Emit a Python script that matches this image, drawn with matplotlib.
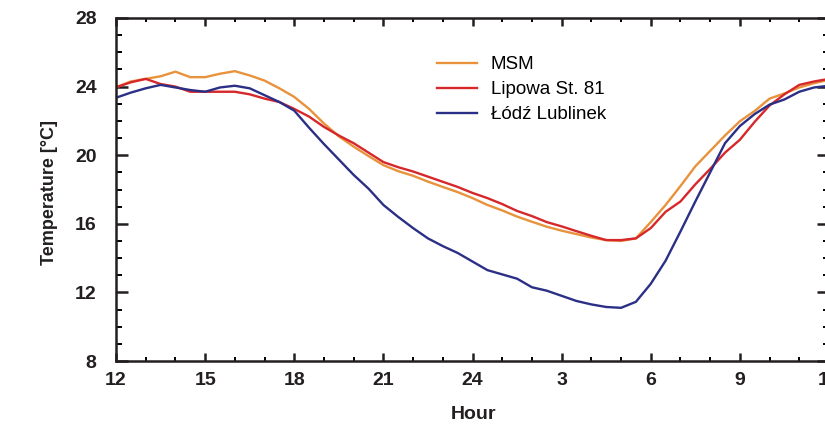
import numpy as np
import matplotlib
matplotlib.use("Agg")
import matplotlib.pyplot as plt
from matplotlib.ticker import MultipleLocator

plt.rcParams['font.family'] = ['Liberation Sans', 'DejaVu Sans']

# hours counted from 12:00 (0) to 12:00 next day (24)
hours = np.arange(0, 24.5, 0.5)

msm = [23.96, 24.30, 24.45, 24.60, 24.87, 24.55, 24.55, 24.75, 24.90, 24.65,
       24.35, 23.90, 23.40, 22.70, 21.85, 21.10, 20.50, 19.95, 19.42, 19.07,
       18.80, 18.46, 18.15, 17.85, 17.50, 17.10, 16.78, 16.42, 16.12, 15.83,
       15.60, 15.40, 15.20, 15.05, 15.00, 15.15, 16.10, 17.10, 18.20, 19.35,
       20.25, 21.15, 21.98, 22.58, 23.30, 23.60, 23.95, 24.20, 24.40]

lipowa = [23.96, 24.25, 24.45, 24.15, 24.00, 23.70, 23.70, 23.70, 23.70, 23.55,
          23.30, 23.10, 22.70, 22.25, 21.65, 21.15, 20.70, 20.15, 19.60, 19.30,
          19.05, 18.75, 18.45, 18.15, 17.80, 17.50, 17.15, 16.75, 16.45, 16.10,
          15.85, 15.57, 15.30, 15.05, 15.05, 15.15, 15.75, 16.70, 17.30, 18.30,
          19.20, 20.15, 20.90, 21.95, 22.90, 23.55, 24.10, 24.30, 24.45]

lodz = [23.35, 23.65, 23.90, 24.10, 23.95, 23.80, 23.70, 23.95, 24.05, 23.90,
        23.50, 23.10, 22.60, 21.60, 20.65, 19.75, 18.85, 18.05, 17.10, 16.40,
        15.75, 15.15, 14.70, 14.30, 13.80, 13.30, 13.05, 12.80, 12.30, 12.10,
        11.80, 11.50, 11.30, 11.15, 11.10, 11.45, 12.50, 13.85, 15.55, 17.30,
        19.00, 20.70, 21.70, 22.40, 22.95, 23.25, 23.70, 23.95, 24.05]

xtick_pos = np.arange(0, 25, 3)
xtick_labels = ['12', '15', '18', '21', '24', '3', '6', '9', '12']

fig = plt.figure(figsize=(8.25, 4.26), dpi=100)
# the right edge of the frame runs just past the picture, as in the original
ax = fig.add_axes([116/825, 65/426, 713/825, 343/426])

ax.plot(hours, msm, color='#E8923C', lw=1.7, label='MSM')
ax.plot(hours, lipowa, color='#D6282B', lw=1.7, label='Lipowa St. 81')
ax.plot(hours, lodz, color='#2B2F85', lw=1.7, label='Łódź Lublinek')

ax.set_xlim(0, 24)
ax.set_ylim(8, 28)
ax.set_xticks(xtick_pos)
ax.set_xticklabels(xtick_labels)
ax.xaxis.set_minor_locator(MultipleLocator(1))
ax.set_yticks(np.arange(8, 29, 4))
ax.yaxis.set_minor_locator(MultipleLocator(1))

for s in ax.spines.values():
    s.set_linewidth(1.8)
    s.set_color('#231f20')

ax.tick_params(axis='x', which='major', direction='in', length=6, width=1.8,
               top=True, pad=8, labelsize=14, colors='#231f20')
ax.tick_params(axis='x', which='minor', direction='in', length=3, width=1.4,
               top=True)
ax.tick_params(axis='y', which='major', direction='in', length=8.5, width=1.8,
               right=True, pad=14, labelsize=14, colors='#231f20')
ax.tick_params(axis='y', which='minor', direction='in', length=4.5, width=1.4,
               right=True)
for lab in ax.get_xticklabels() + ax.get_yticklabels():
    lab.set_fontweight('bold')

ax.set_xlabel('Hour', fontsize=14, fontweight='bold', color='#231f20')
ax.set_ylabel('Temperature [°C]', fontsize=13, fontweight='bold', color='#231f20')
ax.xaxis.set_label_coords(0.502, -0.13)
ax.yaxis.set_label_coords(-0.082, 0.49)

ax.legend(loc='upper left', bbox_to_anchor=(0.44, 0.91), frameon=False,
          fontsize=13.5, handlelength=2.1, handletextpad=0.75,
          labelspacing=0.42, borderaxespad=0)

fig.savefig('out.png', dpi=100)
